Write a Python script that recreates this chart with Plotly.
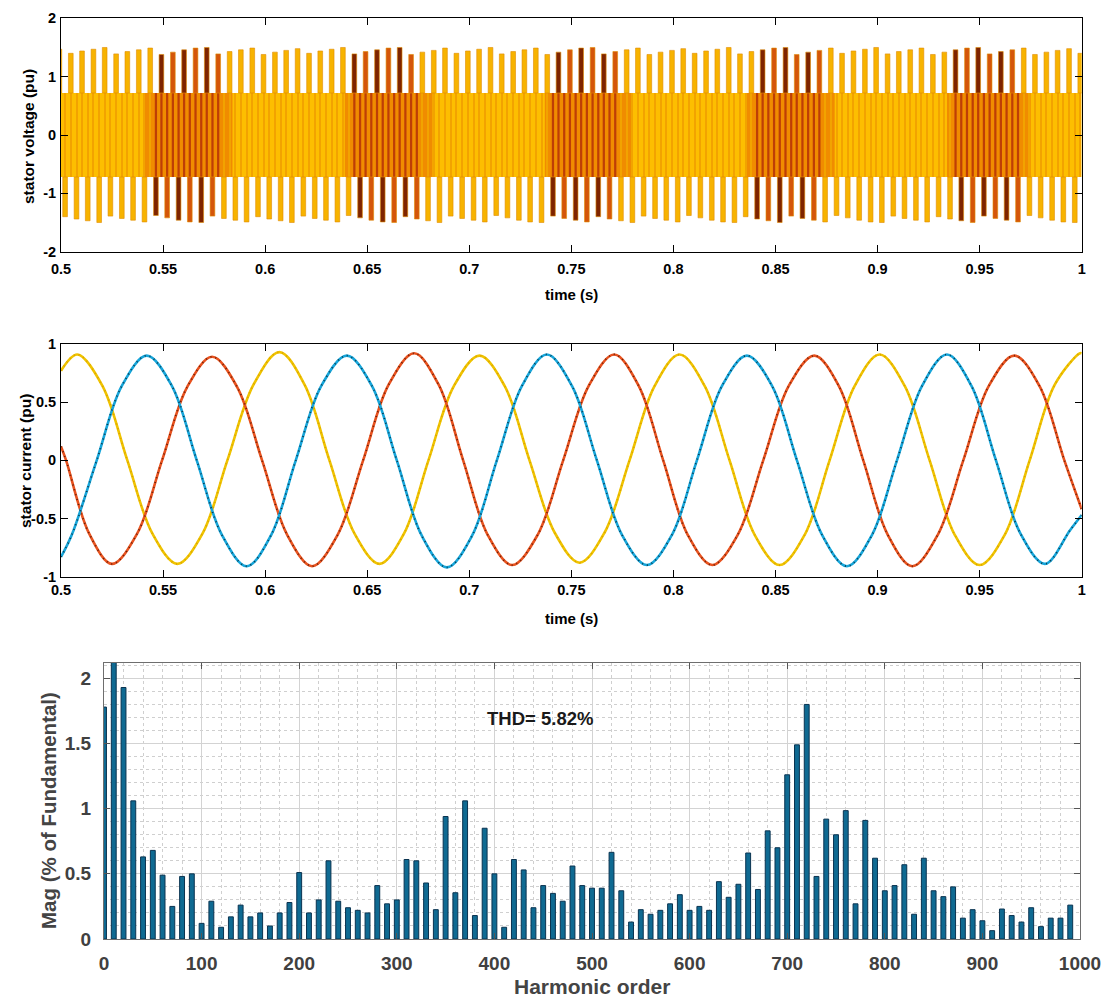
import plotly.graph_objects as go

# ---------------- DATA ----------------
# Panel 1: stator voltage (pu) - PWM waveform
V_T_START = 0.5
V_T_END = 1.0
V_BAND = 0.72          # level of the dense inner band (+/-)
# times of upper pulses (s)
v_top_t = [0.4992, 0.5048, 0.5103, 0.5159, 0.5214, 0.5270, 0.5325, 0.5381, 0.5437, 0.5492,
           0.5548, 0.5603, 0.5659, 0.5714, 0.5770, 0.5826, 0.5881, 0.5937, 0.5992, 0.6048,
           0.6103, 0.6159, 0.6215, 0.6270, 0.6326, 0.6381, 0.6437, 0.6492, 0.6548, 0.6604,
           0.6659, 0.6715, 0.6770, 0.6826, 0.6881, 0.6937, 0.6993, 0.7048, 0.7104, 0.7159,
           0.7215, 0.7270, 0.7326, 0.7382, 0.7437, 0.7493, 0.7548, 0.7604, 0.7659, 0.7715,
           0.7771, 0.7826, 0.7882, 0.7937, 0.7993, 0.8048, 0.8104, 0.8160, 0.8215, 0.8271,
           0.8326, 0.8382, 0.8437, 0.8493, 0.8549, 0.8604, 0.8660, 0.8715, 0.8771, 0.8826,
           0.8882, 0.8938, 0.8993, 0.9049, 0.9104, 0.9160, 0.9215, 0.9271, 0.9327, 0.9382,
           0.9438, 0.9493, 0.9549, 0.9604, 0.9660, 0.9716, 0.9771, 0.9827, 0.9882, 0.9938,
           0.9993]
v_top_h = [1.47,
           1.40, 1.44, 1.47, 1.50, 1.39, 1.43, 1.46, 1.49, 1.38, 1.42, 1.46, 1.49, 1.50,
           1.39, 1.43, 1.46, 1.49, 1.38, 1.42, 1.45, 1.48, 1.40, 1.44, 1.47, 1.50,
           1.39, 1.43, 1.46, 1.49, 1.50, 1.38, 1.42, 1.45, 1.49, 1.40, 1.44, 1.47, 1.50,
           1.39, 1.43, 1.46, 1.49, 1.38, 1.42, 1.46, 1.49, 1.50, 1.39, 1.43, 1.46, 1.49,
           1.38, 1.42, 1.45, 1.48, 1.40, 1.44, 1.47, 1.50, 1.39, 1.43, 1.46, 1.49, 1.50,
           1.38, 1.42, 1.45, 1.49, 1.40, 1.44, 1.47, 1.50, 1.39, 1.43, 1.46, 1.49,
           1.38, 1.42, 1.46, 1.49, 1.50, 1.39, 1.43, 1.46, 1.49, 1.38, 1.42, 1.45, 1.48,
           1.40]
# times of lower pulses (s)
v_bot_t = [0.5020, 0.5076, 0.5131, 0.5187, 0.5242, 0.5298, 0.5353, 0.5409, 0.5465, 0.5520,
           0.5576, 0.5631, 0.5687, 0.5742, 0.5798, 0.5854, 0.5909, 0.5965, 0.6020, 0.6076,
           0.6131, 0.6187, 0.6243, 0.6298, 0.6354, 0.6409, 0.6465, 0.6520, 0.6576, 0.6632,
           0.6687, 0.6743, 0.6798, 0.6854, 0.6909, 0.6965, 0.7021, 0.7076, 0.7132, 0.7187,
           0.7243, 0.7298, 0.7354, 0.7410, 0.7465, 0.7521, 0.7576, 0.7632, 0.7687, 0.7743,
           0.7799, 0.7854, 0.7910, 0.7965, 0.8021, 0.8076, 0.8132, 0.8188, 0.8243, 0.8299,
           0.8354, 0.8410, 0.8465, 0.8521, 0.8577, 0.8632, 0.8688, 0.8743, 0.8799, 0.8854,
           0.8910, 0.8966, 0.9021, 0.9077, 0.9132, 0.9188, 0.9243, 0.9299, 0.9355, 0.9410,
           0.9466, 0.9521, 0.9577, 0.9632, 0.9688, 0.9744, 0.9799, 0.9855, 0.9910, 0.9966]
v_bot_h = [-1.40, -1.44, -1.47, -1.50, -1.39, -1.43, -1.46, -1.49, -1.38, -1.42, -1.46, -1.49, -1.50,
           -1.39, -1.43, -1.46, -1.49, -1.40, -1.44, -1.47, -1.50, -1.39, -1.43, -1.46, -1.49,
           -1.38, -1.42, -1.46, -1.49, -1.50, -1.40, -1.44, -1.47, -1.50, -1.39, -1.43, -1.46, -1.49,
           -1.38, -1.42, -1.46, -1.49, -1.50, -1.39, -1.43, -1.46, -1.49, -1.40, -1.44, -1.47, -1.50,
           -1.39, -1.43, -1.46, -1.49, -1.38, -1.42, -1.46, -1.49, -1.50, -1.40, -1.44, -1.47, -1.50,
           -1.39, -1.43, -1.46, -1.49, -1.38, -1.42, -1.46, -1.49, -1.50, -1.39, -1.43, -1.46, -1.49,
           -1.40, -1.44, -1.47, -1.50, -1.39, -1.43, -1.46, -1.49, -1.38, -1.42, -1.46, -1.49, -1.50]
# time windows where the darker (red / brown) phase dominates
v_dark_windows = [(0.545, 0.578), (0.643, 0.676), (0.741, 0.774), (0.840, 0.873), (0.938, 0.970)]
v_orange_windows = [(0.541, 0.584), (0.639, 0.682), (0.737, 0.780), (0.836, 0.879), (0.934, 0.975)]

# Panel 2: stator current (pu) (peaks, troughs, zero crossings, mid-slopes)
ia_t = [0.5, 0.508, 0.5203, 0.5325, 0.5448, 0.557, 0.5693, 0.5815, 0.5943, 0.607,
        0.6193, 0.6315, 0.6438, 0.656, 0.668, 0.680, 0.6925, 0.705, 0.7173, 0.7295,
        0.7418, 0.754, 0.7663, 0.7785, 0.7908, 0.803, 0.8153, 0.8275, 0.8398, 0.852,
        0.8643, 0.8765, 0.8888, 0.901, 0.9133, 0.9255, 0.9378, 0.950, 0.9623, 0.9745,
        0.9868, 0.999, 1.0]
ia_v = [0.77, 0.91, 0.64, 0.0, -0.63, -0.89, -0.63, 0.0, 0.65, 0.93,
        0.65, 0.0, -0.63, -0.89, -0.63, 0.0, 0.64, 0.90, 0.64, 0.0,
        -0.62, -0.88, -0.62, 0.0, 0.64, 0.91, 0.64, 0.0, -0.64, -0.90,
        -0.64, 0.0, 0.64, 0.91, 0.64, 0.0, -0.64, -0.90, -0.64, 0.0,
        0.65, 0.92, 0.92]
ib_t = [0.5, 0.5053, 0.5175, 0.5298, 0.542, 0.5543, 0.5665, 0.5788, 0.591, 0.603,
        0.615, 0.6275, 0.640, 0.6523, 0.6645, 0.6768, 0.689, 0.7013, 0.7135, 0.7258,
        0.738, 0.7503, 0.7625, 0.7748, 0.787, 0.7993, 0.8115, 0.8238, 0.836, 0.8483,
        0.8605, 0.8728, 0.885, 0.8973, 0.9095, 0.9218, 0.934, 0.946, 0.958, 0.970,
        0.982, 0.9943, 1.0]
ib_v = [-0.83, -0.64, 0.0, 0.64, 0.90, 0.64, 0.0, -0.64, -0.91, -0.64,
        0.0, 0.64, 0.90, 0.64, 0.0, -0.65, -0.92, -0.65, 0.0, 0.64,
        0.91, 0.64, 0.0, -0.64, -0.90, -0.64, 0.0, 0.64, 0.90, 0.64,
        0.0, -0.64, -0.91, -0.64, 0.0, 0.64, 0.91, 0.64, 0.0, -0.63,
        -0.89, -0.60, -0.47]
ic_t = [0.5, 0.5025, 0.5138, 0.525, 0.5373, 0.5495, 0.5618, 0.574, 0.5863, 0.5985,
        0.6108, 0.623, 0.6355, 0.648, 0.6605, 0.673, 0.685, 0.697, 0.709, 0.721,
        0.7335, 0.746, 0.7585, 0.771, 0.783, 0.795, 0.807, 0.819, 0.8315, 0.844,
        0.8565, 0.869, 0.881, 0.893, 0.905, 0.917, 0.9295, 0.942, 0.9545, 0.967,
        0.9793, 0.9915, 1.0]
ic_v = [0.12, 0.0, -0.63, -0.89, -0.63, 0.0, 0.63, 0.89, 0.63, 0.0,
        -0.64, -0.91, -0.64, 0.0, 0.65, 0.92, 0.65, 0.0, -0.64, -0.90,
        -0.64, 0.0, 0.64, 0.91, 0.64, 0.0, -0.64, -0.90, -0.64, 0.0,
        0.64, 0.90, 0.64, 0.0, -0.64, -0.91, -0.64, 0.0, 0.64, 0.90,
        0.64, 0.0, -0.42]

# Panel 3: harmonic spectrum
harm_order = [0, 10, 20, 30, 40, 50, 60, 70, 80, 90, 100, 110, 120, 130, 140, 150, 160, 170, 180, 190,
              200, 210, 220, 230, 240, 250, 260, 270, 280, 290, 300, 310, 320, 330, 340, 350, 360, 370, 380, 390,
              400, 410, 420, 430, 440, 450, 460, 470, 480, 490, 500, 510, 520, 530, 540, 550, 560, 570, 580, 590,
              600, 610, 620, 630, 640, 650, 660, 670, 680, 690, 700, 710, 720, 730, 740, 750, 760, 770, 780, 790,
              800, 810, 820, 830, 840, 850, 860, 870, 880, 890, 900, 910, 920, 930, 940, 950, 960, 970, 980, 990]
harm_mag = [1.78, 2.30, 1.93, 1.06, 0.63, 0.68, 0.49, 0.25, 0.48, 0.50,
            0.12, 0.29, 0.09, 0.17, 0.26, 0.17, 0.20, 0.10, 0.20, 0.28,
            0.51, 0.20, 0.30, 0.60, 0.29, 0.24, 0.22, 0.20, 0.41, 0.27,
            0.30, 0.61, 0.60, 0.43, 0.225, 0.94, 0.355, 1.06, 0.18, 0.85,
            0.50, 0.09, 0.61, 0.53, 0.24, 0.41, 0.35, 0.29, 0.56, 0.41,
            0.39, 0.39, 0.665, 0.37, 0.13, 0.225, 0.19, 0.22, 0.27, 0.34,
            0.22, 0.25, 0.22, 0.44, 0.32, 0.42, 0.66, 0.38, 0.83, 0.70,
            1.26, 1.49, 1.80, 0.48, 0.92, 0.80, 0.985, 0.27, 0.91, 0.62,
            0.37, 0.41, 0.57, 0.19, 0.62, 0.37, 0.325, 0.40, 0.16, 0.225,
            0.14, 0.064, 0.23, 0.18, 0.13, 0.24, 0.095, 0.16, 0.16, 0.26]
THD_TEXT = "THD= 5.82%"
THD_POS = (447, 1.69)

# tick labels
t_ticks = [0.5, 0.55, 0.6, 0.65, 0.7, 0.75, 0.8, 0.85, 0.9, 0.95, 1.0]
t_labels = ["0.5", "0.55", "0.6", "0.65", "0.7", "0.75", "0.8", "0.85", "0.9", "0.95", "1"]
v_ticks = [-2, -1, 0, 1, 2]
v_labels = ["-2", "-1", "0", "1", "2"]
i_ticks = [-1, -0.5, 0, 0.5, 1]
i_labels = ["-1", "-0.5", "0", "0.5", "1"]
h_xticks = [0, 100, 200, 300, 400, 500, 600, 700, 800, 900, 1000]
h_xlabels = ["0", "100", "200", "300", "400", "500", "600", "700", "800", "900", "1000"]
h_yticks = [0, 0.5, 1, 1.5, 2]
h_ylabels = ["0", "0.5", "1", "1.5", "2"]

# ---------------- STYLE ----------------
FONT = "Liberation Sans, Arial, sans-serif"
YEL = "#FDBE00"
PULSE_YEL = "#F7B300"
PULSE_EDGE = "#E08C00"
DARK = "#7E2400"
REDOR = "#D4560A"
BAND_OR = "#F08C00"
STRIPE_DARK = "#BE3E06"
STRIPE_LIGHT = "#F2A300"


def in_windows(t, wins):
    return any(a <= t <= b for a, b in wins)


fig = go.Figure()

# ---- panel 1: voltage ----
fig.add_trace(go.Bar(x=[(V_T_START + V_T_END) / 2], y=[2 * V_BAND], base=[-V_BAND],
                     width=[V_T_END - V_T_START], marker=dict(color=YEL, line_width=0),
                     xaxis="x", yaxis="y", hoverinfo="skip"))
fig.add_trace(go.Bar(x=[(a + b) / 2 for a, b in v_orange_windows],
                     y=[2 * V_BAND] * len(v_orange_windows), base=[-V_BAND] * len(v_orange_windows),
                     width=[b - a for a, b in v_orange_windows],
                     marker=dict(color=BAND_OR, line_width=0), xaxis="x", yaxis="y", hoverinfo="skip"))
stripe_t = sorted(v_top_t + v_bot_t)
stripe_col = [STRIPE_DARK if in_windows(t, v_dark_windows) else STRIPE_LIGHT for t in stripe_t]
stripe_w = [0.0011 if in_windows(t, v_dark_windows) else 0.0005 for t in stripe_t]
fig.add_trace(go.Bar(x=stripe_t, y=[2 * V_BAND] * len(stripe_t), base=[-V_BAND] * len(stripe_t),
                     width=stripe_w, marker=dict(color=stripe_col, line_width=0),
                     xaxis="x", yaxis="y", hoverinfo="skip"))


def pulse_colors(ts):
    cols = []
    k = 0
    for t in ts:
        if in_windows(t, v_dark_windows):
            cols.append(DARK if k % 2 == 0 else REDOR)
            k += 1
        else:
            cols.append(PULSE_YEL)
    return cols


top_pairs = list(zip(v_top_t, v_top_h))
bot_pairs = list(zip(v_bot_t, v_bot_h))
fig.add_trace(go.Bar(x=[t for t, h in top_pairs], y=[h - V_BAND for t, h in top_pairs],
                     base=[V_BAND] * len(top_pairs), width=0.0023,
                     marker=dict(color=pulse_colors([t for t, h in top_pairs]),
                                 line=dict(color=PULSE_EDGE, width=0.6)),
                     xaxis="x", yaxis="y", hoverinfo="skip"))
fig.add_trace(go.Bar(x=[t for t, h in bot_pairs], y=[h + V_BAND for t, h in bot_pairs],
                     base=[-V_BAND] * len(bot_pairs), width=0.0023,
                     marker=dict(color=pulse_colors([t for t, h in bot_pairs]),
                                 line=dict(color=PULSE_EDGE, width=0.6)),
                     xaxis="x", yaxis="y", hoverinfo="skip"))

# ---- panel 2: current ----
phases = [
    (ia_t, ia_v, "#F0C400", "#D49A00"),
    (ic_t, ic_v, "#E8531F", "#4A1404"),
    (ib_t, ib_v, "#17A6DA", "#04222F"),
]
for tt, vv, col, speck in phases:
    fig.add_trace(go.Scatter(x=tt, y=vv, mode="lines",
                             line=dict(color=col, width=2.6, shape="spline", smoothing=1.0),
                             xaxis="x2", yaxis="y2", hoverinfo="skip"))
    fig.add_trace(go.Scatter(x=tt, y=vv, mode="lines",
                             line=dict(color=speck, width=1.8, shape="spline", smoothing=1.0,
                                       dash="1px,4px"),
                             xaxis="x2", yaxis="y2", hoverinfo="skip", opacity=0.8))

# ---- panel 3: harmonic spectrum ----
fig.add_trace(go.Bar(x=harm_order, y=harm_mag, width=5.0,
                     marker=dict(color="#0F6A92", line=dict(color="#0A3350", width=1)),
                     xaxis="x3", yaxis="y3", hoverinfo="skip"))

# ---------------- LAYOUT ----------------
W, H = 1107, 1001


def px_x(p):
    return p / W


def px_y(p):
    return 1 - p / H


tick_font = dict(family=FONT, size=14.5, color="black", weight="bold")
common_top = dict(showline=True, linecolor="black", linewidth=1, mirror="ticks", ticks="inside",
                  ticklen=7, tickcolor="black", showgrid=False, zeroline=False, tickfont=tick_font,
                  automargin=False)

h_font = dict(family=FONT, size=19, color="#404040", weight="bold")
common_h = dict(showline=True, linecolor="#6E6E6E", linewidth=1, mirror="ticks", ticks="inside",
                ticklen=6, tickcolor="#555555", showgrid=True, gridcolor="#D3D3D3", gridwidth=1,
                zeroline=False, tickfont=h_font, automargin=False, ticklabeloverflow="allow")

fig.update_layout(
    width=W, height=H, margin=dict(l=0, r=0, t=0, b=0, autoexpand=False),
    paper_bgcolor="white", plot_bgcolor="white", showlegend=False, barmode="overlay",
    xaxis=dict(domain=[px_x(61), px_x(1081.7)], anchor="y", range=[0.5, 1.0],
               tickvals=t_ticks, ticktext=t_labels, ticklabelstandoff=4, **common_top),
    yaxis=dict(domain=[px_y(251.7), px_y(18.3)], anchor="x", range=[-2, 2],
               tickvals=v_ticks, ticktext=v_labels, ticklabelstandoff=1, **common_top),
    xaxis2=dict(domain=[px_x(61), px_x(1081.7)], anchor="y2", range=[0.5, 1.0],
                tickvals=t_ticks, ticktext=t_labels, ticklabelstandoff=0, **common_top),
    yaxis2=dict(domain=[px_y(576.7), px_y(344)], anchor="x2", range=[-1, 1],
                tickvals=i_ticks, ticktext=i_labels, ticklabelstandoff=1, **common_top),
    xaxis3=dict(domain=[px_x(104), px_x(1080)], anchor="y3", range=[0, 1000],
                tickvals=h_xticks, ticktext=h_xlabels, ticklabelstandoff=7,
                minor=dict(dtick=20, showgrid=True, gridcolor="#CFCFCF", griddash="dot", ticks=""),
                **common_h),
    yaxis3=dict(domain=[px_y(939), px_y(663)], anchor="x3", range=[0, 2.118],
                tickvals=h_yticks, ticktext=h_ylabels, ticklabelstandoff=8,
                minor=dict(dtick=0.1, showgrid=True, gridcolor="#CFCFCF", griddash="dot", ticks=""),
                **common_h),
)

title_font = dict(family=FONT, size=15, color="black", weight="bold")
ytitle_font = dict(family=FONT, size=15.5, color="black", weight="bold")
h_title_font = dict(family=FONT, size=21, color="#444444", weight="bold")
annos = [
    dict(text="time (s)", x=px_x(571), y=px_y(294.5), font=title_font),
    dict(text="time (s)", x=px_x(571), y=px_y(618), font=title_font),
    dict(text="stator voltage (pu)", x=px_x(28), y=px_y(137), font=ytitle_font, textangle=-90),
    dict(text="stator current (pu)", x=px_x(25), y=px_y(461), font=ytitle_font, textangle=-90),
    dict(text="Harmonic order", x=px_x(592), y=px_y(986), font=h_title_font),
    dict(text="Mag (% of Fundamental)", x=px_x(48), y=px_y(811),
         font=dict(family=FONT, size=20.5, color="#444444", weight="bold"), textangle=-90),
]
for a in annos:
    fig.add_annotation(xref="paper", yref="paper", showarrow=False, xanchor="center", yanchor="middle", **a)
fig.add_annotation(xref="x3", yref="y3", x=THD_POS[0], y=THD_POS[1], text=THD_TEXT, showarrow=False,
                   font=dict(family=FONT, size=18.5, color="#1A1A1A", weight="bold"))

# remove the browser's default 8px page margin so the figure fills the window exactly
fig.write_html("out.html", config={"displayModeBar": False},
               post_script="document.body.style.margin='0px';")
